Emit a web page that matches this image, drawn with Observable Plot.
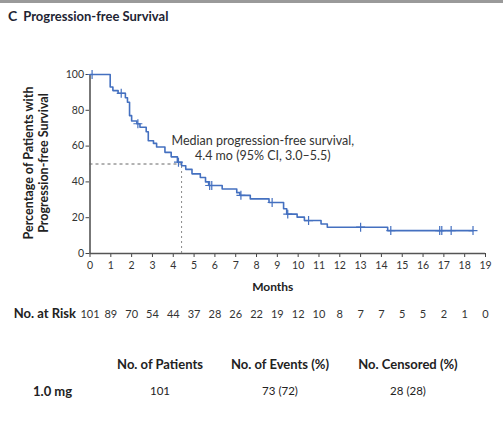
<!DOCTYPE html>
<html><head><meta charset="utf-8">
<script src="https://cdn.jsdelivr.net/npm/d3@7"></script>
<script src="https://cdn.jsdelivr.net/npm/@observablehq/plot@0.6"></script>
<style>
body{margin:0;background:#fff;font-family:Lato,"Noto Sans",sans-serif;}
#wrap{position:relative;width:503px;height:445px;overflow:hidden;background:#fff}
#topbar{position:absolute;left:0;top:0;width:503px;height:3px;background:#9a9a9a}
#title{position:absolute;left:8px;top:5px;font-weight:bold;color:#1e2433;white-space:nowrap}
#title .l{font-size:14px;}
#title .t{font-size:13px;margin-left:6px}
#chart{position:absolute;left:0;top:0}
.cell{position:absolute;font-size:11.5px;color:#222;white-space:nowrap;transform:translateX(-50%)}
.hd{font-weight:bold;font-size:13px}
</style></head><body>
<div id="wrap">
<div id="topbar"></div>
<div id="title"><span class="l">C</span><span class="t">Progression-free Survival</span></div>
<div id="chart"></div>
<div id="table"></div>
</div>
<script>
// Kaplan–Meier step points (months, % progression-free)
const stepMonths = [0, 0.97, 1.1, 1.35, 1.7, 1.8, 1.9, 2.0, 2.25, 2.4, 2.7, 2.8, 3.05, 3.2, 3.6, 3.9, 4.2, 4.4, 4.6, 4.9, 5.3, 5.55, 5.7, 6.35, 7.05, 7.2, 7.7, 8.6, 9.3, 9.45, 9.95, 10.3, 11.1, 11.4, 14.3, 18.4];
const stepSurv   = [100, 93, 91, 89.5, 87, 84.5, 77, 74, 72.5, 70.5, 68, 63, 61.5, 59.5, 56.5, 54, 51, 49, 47, 44.5, 42.5, 40, 38, 36, 34, 32.5, 30.5, 28.5, 25, 22, 20.3, 18.4, 16.5, 14.7, 12.8, 12.8];
// censored observations (months)
const censorMonths = [0.1, 1.5, 2.3, 4.25, 5.75, 5.85, 7.25, 8.75, 9.5, 10.5, 13.0, 14.45, 16.8, 16.9, 17.35, 18.4];
// number at risk
const riskMonths = [0,1,2,3,4,5,6,7,8,9,10,11,12,13,14,15,16,17,18,19];
const riskCounts = [101,89,70,54,44,37,28,26,22,19,12,10,8,7,7,5,5,2,1,0];
const yTicks = [0,20,40,60,80,100];
const medianMonths = 4.4, medianPct = 50;
const annotation = "Median progression-free survival,\n4.4 mo (95% CI, 3.0–5.5)";
const yLabel = "Percentage of Patients with\nProgression-free Survival";
const tableHeaders = ["No. of Patients", "No. of Events (%)", "No. Censored (%)"];
const tableRowLabel = "1.0 mg";
const tableRow = ["101", "73 (72)", "28 (28)"];

const steps = stepMonths.map((t,i)=>({t, s: stepSurv[i]}));
function survAt(t){ let s = stepSurv[0]; for (let i=0;i<stepMonths.length;i++){ if (stepMonths[i] <= t) s = stepSurv[i]; } return s; }
const censors = censorMonths.map(t=>({t, s: survAt(t)}));
const risk = riskMonths.map((m,i)=>({m, n: riskCounts[i]}));

const blue = "#4470c0";
const chart = Plot.plot({
  width: 503, height: 445,
  marginLeft: 89.5, marginRight: 18, marginTop: 74, marginBottom: 192,
  x: {domain: [0, 19]},
  y: {domain: [0, 100]},
  style: {fontFamily: "Lato, 'Noto Sans', sans-serif", fontSize: "10.5px", color: "#333", background: "transparent", overflow: "visible"},
  marks: [
    Plot.axisY({ticks: yTicks, tickSize: 4, tickPadding: 2, label: null, stroke: "#444", fontSize: 10.5}),
    Plot.axisX({ticks: riskMonths, tickSize: 4, tickPadding: 4, label: null, stroke: "#444", fontSize: 10.5}),
    Plot.ruleX([0], {stroke: "#777", strokeWidth: 2}),
    Plot.ruleY([0], {stroke: "#555", strokeWidth: 1.5}),
    Plot.ruleY([medianPct], {x1: 0, x2: medianMonths, stroke: "#666", strokeDasharray: "3,3", strokeWidth: 1}),
    Plot.ruleX([medianMonths], {y1: 0, y2: medianPct, stroke: "#888", strokeDasharray: "2,3", strokeWidth: 1}),
    Plot.line(steps, {x: "t", y: "s", curve: "step-after", stroke: blue, strokeWidth: 1.6}),
    Plot.dot(censors, {x: "t", y: "s", symbol: "plus", r: 3, stroke: blue, strokeWidth: 1.2}),
    Plot.text([annotation], {x: 8.3, y: 59, text: d => d, textAnchor: "middle", fontSize: 12.5, lineHeight: 1.2, fill: "#333"}),
    Plot.text(["Months"], {frameAnchor: "bottom", dx: -15, dy: 37, text: d => d, fontWeight: "bold", fontSize: 12, fill: "#222"}),
    Plot.text(risk, {x: "m", text: "n", frameAnchor: "bottom", dy: 64, fontSize: 11, fill: "#333"}),
    Plot.text(["No. at Risk"], {frameAnchor: "bottom-left", textAnchor: "end", dx: -14, dy: 64, text: d => d, fontWeight: "bold", fontSize: 13, fill: "#222"}),
    Plot.text([yLabel], {frameAnchor: "left", textAnchor: "middle", rotate: -90, dx: -54, dy: -1, text: d => d, fontWeight: "bold", fontSize: 12.5, lineHeight: 1.2, fill: "#222"})
  ]
});
document.getElementById("chart").append(chart);

const tbl = document.getElementById("table");
const colX = [160, 280, 408];
tableHeaders.forEach((h,i)=>{ const d=document.createElement("div"); d.className="cell hd"; d.textContent=h; d.style.left=colX[i]+"px"; d.style.top="356px"; tbl.append(d); });
tableRow.forEach((v,i)=>{ const d=document.createElement("div"); d.className="cell"; d.textContent=v; d.style.left=colX[i]+"px"; d.style.top="384px"; tbl.append(d); });
const rl=document.createElement("div"); rl.className="cell hd"; rl.style.transform="none"; rl.style.left="33px"; rl.style.top="383px"; rl.textContent=tableRowLabel; tbl.append(rl);
</script>
</body></html>
